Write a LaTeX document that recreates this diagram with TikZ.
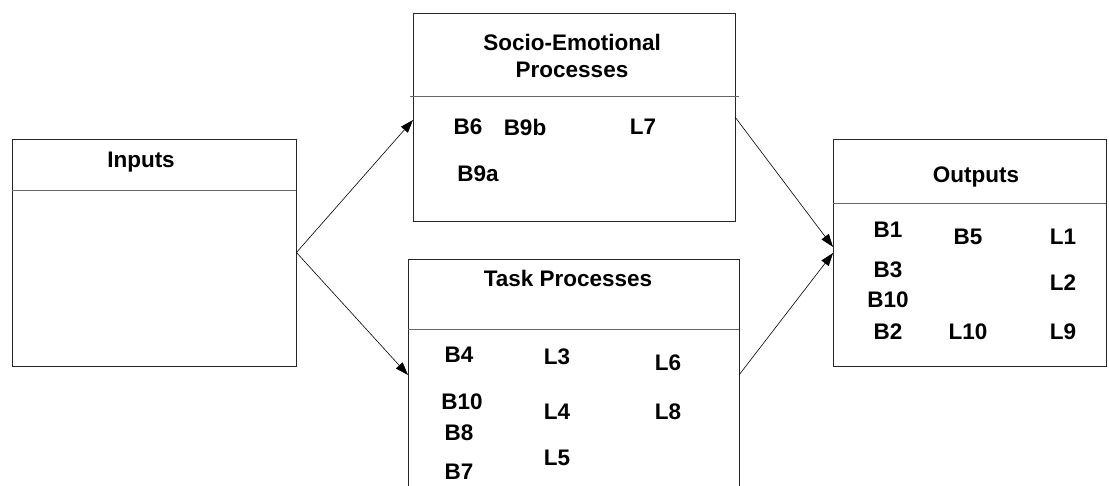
\documentclass[tikz,border=0pt]{standalone}
\usepackage{fontspec}
\setmainfont{Liberation Sans}
\usetikzlibrary{arrows.meta}
\begin{document}
\begin{tikzpicture}[x=1pt,y=-1pt,
  box/.style={draw=black!85,line width=0.9pt,rectangle,inner sep=0pt},
  rule/.style={draw=black!60,line width=0.9pt},
  lbl/.style={font=\fontsize{22.5}{27}\selectfont\bfseries,inner sep=0pt,anchor=center,align=center},
  flow/.style={draw=black,line width=0.6pt,-{Triangle[length=13pt,width=9pt]}}]
\useasboundingbox (0,0) rectangle (1109,486);
\clip (0,0) rectangle (1109,486);

% boxes
\node[box,minimum width=284pt,minimum height=227pt] (in) at (154,252.5) {};
\node[box,minimum width=322pt,minimum height=208pt] (se) at (574,117) {};
\node[box,minimum width=331pt,minimum height=241pt] (tp) at (573.5,379.5) {};
\node[box,minimum width=273pt,minimum height=227pt] (out) at (969.5,252.5) {};

% header rules
\draw[rule] (12,190) -- (296,190);
\draw[rule] (410,96) -- (739,96);
\draw[rule] (408,329) -- (739,329);
\draw[rule] (833,203) -- (1106,203);

% titles
\node[lbl] (inT) at (141,162) {Inputs};
\node[lbl] (seT) at (572,56) {Socio-Emotional\\Processes};
\node[lbl] (tpT) at (568,278) {Task Processes};
\node[lbl] (outT) at (976,177) {Outputs};

% socio-emotional items
\node[lbl] (s1) at (468,127) {B6};
\node[lbl] (s2) at (525,127) {B9b};
\node[lbl] (s3) at (643,127) {L7};
\node[lbl] (s4) at (478,174) {B9a};

% task items
\node[lbl] (t1) at (459,355) {B4};
\node[lbl] (t2) at (557,357) {L3};
\node[lbl] (t3) at (668,363) {L6};
\node[lbl] (t4) at (462,402) {B10};
\node[lbl] (t5) at (557,412) {L4};
\node[lbl] (t6) at (668,412) {L8};
\node[lbl] (t7) at (459,433) {B8};
\node[lbl] (t8) at (557,458) {L5};
\node[lbl] (t9) at (459,472) {B7};

% output items
\node[lbl] (o1) at (888,230) {B1};
\node[lbl] (o2) at (968,237) {B5};
\node[lbl] (o3) at (1063,237) {L1};
\node[lbl] (o4) at (888,270) {B3};
\node[lbl] (o5) at (1063,283) {L2};
\node[lbl] (o6) at (888,300) {B10};
\node[lbl] (o7) at (888,332) {B2};
\node[lbl] (o8) at (968,332) {L10};
\node[lbl] (o9) at (1063,332) {L9};

% connector end points on the box edges
\coordinate (seIn) at (413,120);
\coordinate (tpIn) at (408,375);
\coordinate (seOut) at (735,117);
\coordinate (tpOut) at (739,375);
\coordinate (outInA) at (833,247);
\coordinate (outInB) at (833,253);

\draw[flow] (in.east) -- (seIn);
\draw[flow] (in.east) -- (tpIn);
\draw[flow] (seOut) -- (outInA);
\draw[flow] (tpOut) -- (outInB);
\end{tikzpicture}
\end{document}
